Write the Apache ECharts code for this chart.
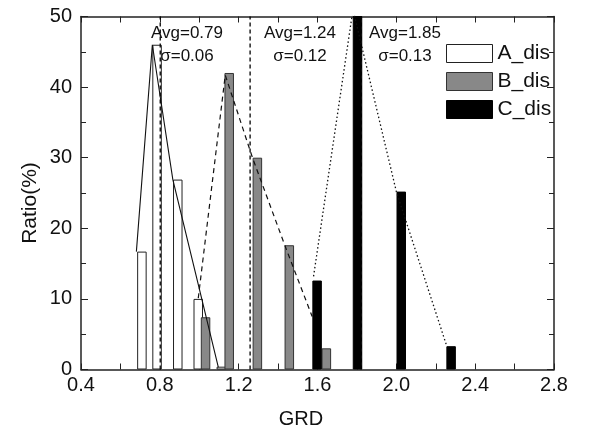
<!DOCTYPE html>
<html><head><meta charset="utf-8">
<script src="https://cdn.jsdelivr.net/npm/echarts@6/dist/echarts.min.js"></script>
<style>html,body{margin:0;padding:0;background:#fff}#c{width:591px;height:431px}</style>
</head><body><div id="c"></div>
<script>
// ---- data ----
const seriesNames = ['A_dis', 'B_dis', 'C_dis'];
const aX = [0.709, 0.786, 0.891, 0.995, 1.112];
const aY = [16.7, 46.0, 26.9, 10.0, 0.4];
const bX = [1.032, 1.152, 1.295, 1.457, 1.645];
const bY = [7.4, 42.0, 30.0, 17.6, 3.0];
const cX = [1.598, 1.803, 2.025, 2.278];
const cY = [12.6, 55.0, 25.2, 3.3];
const aLineX = [0.681, 0.762, 0.866, 1.097];
const aLineY = [16.7, 46.0, 26.9, 0.3];
const bLineX = [0.995, 1.132, 1.27, 1.434, 1.573];
const bLineY = [10.1, 41.7, 30.0, 17.6, 7.5];
const cLineX = [1.58, 1.78, 2.0, 2.256];
const cLineY = [13.2, 51.0, 25.2, 3.3];
const avgX = [0.802, 1.258, 1.822];
const avgText = ['Avg=0.79', 'Avg=1.24', 'Avg=1.85'];
const sigmaText = ['σ=0.06', 'σ=0.12', 'σ=0.13'];
const xName = 'GRD';
const yName = 'Ratio(%)';

const zip = (xs, ys) => xs.map((x, i) => [x, ys[i]]);
const FONT = 'Liberation Sans, Arial, sans-serif';
const AX = '#222';

const chart = echarts.init(document.getElementById('c'), null, {renderer: 'canvas'});

function xAx(pos, labels) {
  return {
    type: 'value', position: pos, min: 0.4, max: 2.8, interval: 0.4,
    axisLine: {show: true, onZero: false, lineStyle: {color: AX, width: 1.5}},
    axisTick: {show: true, inside: true, length: 6, lineStyle: {color: AX, width: 1}},
    minorTick: {show: true, splitNumber: 2, length: 6, lineStyle: {color: AX, width: 1}},
    splitLine: {show: false}, minorSplitLine: {show: false},
    axisLabel: {show: labels, fontSize: 20, fontFamily: FONT, color: '#111', margin: 6,
      formatter: v => v.toFixed(1)}
  };
}
function yAx(pos, labels) {
  return {
    type: 'value', position: pos, min: 0, max: 50, interval: 10,
    axisLine: {show: true, onZero: false, lineStyle: {color: AX, width: 1.5}},
    axisTick: {show: true, inside: true, length: 7, lineStyle: {color: AX, width: 1}},
    minorTick: {show: true, splitNumber: 2, length: 5, lineStyle: {color: AX, width: 1}},
    splitLine: {show: false}, minorSplitLine: {show: false},
    axisLabel: {show: labels, fontSize: 20, fontFamily: FONT, color: '#111', margin: 9}
  };
}

const barCommon = {type: 'bar', barWidth: 9.5, barGap: '-100%', xAxisIndex: 0, yAxisIndex: 0, clip: true};
const lineCommon = {type: 'line', symbol: 'none', xAxisIndex: 0, yAxisIndex: 0, clip: true, silent: true};

const series = [
  Object.assign({}, barCommon, {name: seriesNames[0], data: zip(aX, aY),
    itemStyle: {color: '#ffffff', borderColor: '#222', borderWidth: 1}}),
  Object.assign({}, barCommon, {name: seriesNames[1], data: zip(bX, bY),
    itemStyle: {color: '#888888', borderColor: '#333', borderWidth: 1}}),
  Object.assign({}, barCommon, {name: seriesNames[2], data: zip(cX, cY),
    itemStyle: {color: '#000000', borderColor: '#000', borderWidth: 1}}),
  Object.assign({}, lineCommon, {name: 'aLine', data: zip(aLineX, aLineY),
    lineStyle: {color: '#111', width: 1.1, type: 'solid'}}),
  Object.assign({}, lineCommon, {name: 'bLine', data: zip(bLineX, bLineY),
    lineStyle: {color: '#111', width: 1.2, type: [5, 4]}}),
  Object.assign({}, lineCommon, {name: 'cLine', data: zip(cLineX, cLineY),
    lineStyle: {color: '#111', width: 1.3, type: [1.5, 2.5]}})
];
avgX.forEach((x, i) => {
  series.push(Object.assign({}, lineCommon, {name: 'avg' + i, data: [[x, 0], [x, 50]],
    lineStyle: {color: '#000', width: 1.3, type: [4, 3]}}));
});

const annCx = [187, 300, 405];
const graphic = [];
avgText.forEach((t, i) => {
  graphic.push({type: 'text', x: annCx[i], y: 33, style: {text: t, fontSize: 17, fontFamily: FONT, fill: '#111', align: 'center', verticalAlign: 'middle'}});
  graphic.push({type: 'text', x: annCx[i], y: 56, style: {text: sigmaText[i], fontSize: 17, fontFamily: FONT, fill: '#111', align: 'center', verticalAlign: 'middle'}});
});
graphic.push({type: 'text', x: 301, y: 419, style: {text: xName, fontSize: 20, fontFamily: FONT, fill: '#111', align: 'center', verticalAlign: 'middle'}});
graphic.push({type: 'text', x: 30, y: 203, rotation: Math.PI / 2, style: {text: yName, fontSize: 21, fontFamily: FONT, fill: '#111', align: 'center', verticalAlign: 'middle'}});

chart.setOption({
  animation: false,
  backgroundColor: '#fff',
  grid: {left: 81, right: 37, top: 16.5, bottom: 61.5, containLabel: false},
  xAxis: [xAx('bottom', true), xAx('top', false)],
  yAxis: [yAx('left', true), yAx('right', false)],
  legend: {
    data: seriesNames.map(n => ({name: n, icon: 'rect'})), orient: 'vertical', left: 446, top: 43, padding: 0,
    itemWidth: 46, itemHeight: 18, itemGap: 7, selectedMode: false,
    itemStyle: {borderWidth: 1},
    textStyle: {fontSize: 21, fontFamily: FONT, color: '#111'}
  },
  graphic: graphic,
  series: series
});
</script>
</body></html>
